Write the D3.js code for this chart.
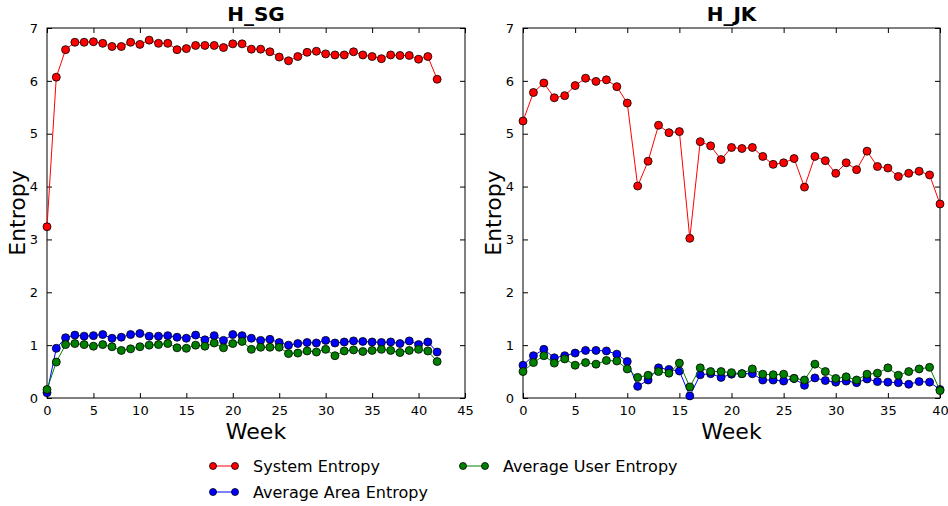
<!DOCTYPE html>
<html>
<head>
<meta charset="utf-8">
<script src="https://cdn.jsdelivr.net/npm/d3@7"></script>
<style>
  html, body { margin: 0; padding: 0; background: #fff; }
  svg { display: block; font-family: "DejaVu Sans", sans-serif; }
</style>
</head>
<body>
<svg id="chart" width="948" height="506"></svg>
<script>
// Weekly entropy for the H_SG dataset (weeks 0..42)
const sgSystem = [3.24, 6.07, 6.59, 6.73, 6.73, 6.74, 6.71, 6.65, 6.65, 6.73, 6.69, 6.77, 6.71, 6.71, 6.59, 6.61,
  6.67, 6.67, 6.67, 6.63, 6.70, 6.70, 6.60, 6.60, 6.55, 6.45, 6.38, 6.46, 6.54, 6.56, 6.51, 6.49, 6.49, 6.55,
  6.49, 6.46, 6.42, 6.49, 6.48, 6.48, 6.41, 6.46, 6.03];
const sgArea = [0.10, 0.94, 1.14, 1.19, 1.17, 1.18, 1.20, 1.13, 1.15, 1.20, 1.22, 1.17, 1.17, 1.18, 1.15, 1.13,
  1.19, 1.10, 1.18, 1.09, 1.20, 1.18, 1.13, 1.09, 1.11, 1.05, 1.00, 1.03, 1.05, 1.04, 1.09, 1.04, 1.06, 1.08,
  1.07, 1.06, 1.05, 1.06, 1.03, 1.08, 1.01, 1.06, 0.87];
const sgUser = [0.16, 0.68, 1.01, 1.03, 1.01, 0.98, 1.01, 0.97, 0.90, 0.93, 0.97, 1.00, 1.01, 1.03, 0.95, 0.94,
  1.00, 0.98, 1.04, 0.95, 1.03, 1.07, 0.92, 0.96, 0.96, 0.96, 0.84, 0.85, 0.89, 0.87, 0.92, 0.80, 0.89, 0.91,
  0.88, 0.90, 0.92, 0.90, 0.86, 0.90, 0.92, 0.89, 0.69];

// Weekly entropy for the H_JK dataset (weeks 0..40)
const jkSystem = [5.24, 5.78, 5.96, 5.68, 5.72, 5.91, 6.05, 5.99, 6.02, 5.89, 5.58, 4.01, 4.48, 5.16, 5.02, 5.04,
  3.02, 4.85, 4.77, 4.51, 4.74, 4.72, 4.74, 4.57, 4.42, 4.45, 4.53, 3.99, 4.57, 4.49, 4.25, 4.45, 4.32, 4.67,
  4.38, 4.35, 4.19, 4.25, 4.29, 4.22, 3.67];
const jkArea = [0.62, 0.80, 0.92, 0.76, 0.80, 0.85, 0.90, 0.90, 0.89, 0.83, 0.69, 0.22, 0.34, 0.57, 0.54, 0.51,
  0.04, 0.44, 0.46, 0.39, 0.45, 0.46, 0.46, 0.34, 0.34, 0.32, 0.37, 0.24, 0.38, 0.33, 0.30, 0.32, 0.29, 0.36,
  0.31, 0.30, 0.29, 0.26, 0.31, 0.30, 0.16];
const jkUser = [0.50, 0.67, 0.80, 0.66, 0.74, 0.62, 0.67, 0.64, 0.71, 0.70, 0.55, 0.39, 0.43, 0.50, 0.47, 0.66,
  0.21, 0.57, 0.50, 0.50, 0.48, 0.46, 0.55, 0.45, 0.44, 0.45, 0.37, 0.34, 0.64, 0.50, 0.37, 0.40, 0.34, 0.45,
  0.47, 0.57, 0.43, 0.50, 0.55, 0.58, 0.14];

const seriesNames = ["System Entropy", "Average Area Entropy", "Average User Entropy"];
const seriesColors = ["#ff0000", "#0000ff", "#008000"];
const yTicks = [0, 1, 2, 3, 4, 5, 6, 7];

const panels = [
  { title: "H_SG", data: [sgSystem, sgArea, sgUser], xMax: 45, xTicks: d3.range(0, 46, 5), left: 47, right: 465 },
  { title: "H_JK", data: [jkSystem, jkArea, jkUser], xMax: 40, xTicks: d3.range(0, 41, 5), left: 523, right: 940 }
];

const svg = d3.select("#chart");
const plotTop = 28, plotBottom = 398;
const y = d3.scaleLinear().domain([0, 7]).range([plotBottom, plotTop]);
const intFmt = d3.format("d");

panels.forEach(p => {
  const x = d3.scaleLinear().domain([0, p.xMax]).range([p.left, p.right]);
  const g = svg.append("g");

  // frame
  g.append("rect").attr("x", p.left).attr("y", plotTop)
    .attr("width", p.right - p.left).attr("height", plotBottom - plotTop)
    .attr("fill", "none").attr("stroke", "#000").attr("stroke-width", 1);

  // axes with inward ticks on all four sides
  const tickStyle = sel => {
    sel.select(".domain").remove();
    sel.selectAll("text").attr("font-size", 13).attr("fill", "#000").attr("font-family", "DejaVu Sans");
    sel.selectAll("line").attr("stroke", "#000");
  };
  g.append("g").attr("transform", `translate(0,${plotBottom})`)
    .call(d3.axisBottom(x).tickValues(p.xTicks).tickFormat(intFmt).tickSizeInner(-5).tickSizeOuter(0).tickPadding(8))
    .call(tickStyle);
  g.append("g").attr("transform", `translate(0,${plotTop})`)
    .call(d3.axisTop(x).tickValues(p.xTicks).tickSizeInner(-5).tickSizeOuter(0).tickFormat(""))
    .call(tickStyle);
  g.append("g").attr("transform", `translate(${p.left},0)`)
    .call(d3.axisLeft(y).tickValues(yTicks).tickFormat(intFmt).tickSizeInner(-5).tickSizeOuter(0).tickPadding(9))
    .call(tickStyle);
  g.append("g").attr("transform", `translate(${p.right},0)`)
    .call(d3.axisRight(y).tickValues(yTicks).tickSizeInner(-5).tickSizeOuter(0).tickFormat(""))
    .call(tickStyle);

  // series: lines then markers
  const line = d3.line().x((d, i) => x(i)).y(d => y(d));
  p.data.forEach((vals, k) => {
    g.append("path").datum(vals).attr("d", line)
      .attr("fill", "none").attr("stroke", seriesColors[k]).attr("stroke-width", 1);
    g.selectAll(null).data(vals).enter().append("circle")
      .attr("cx", (d, i) => x(i)).attr("cy", d => y(d)).attr("r", 4)
      .attr("fill", seriesColors[k]).attr("stroke", "#000").attr("stroke-width", 0.8);
  });

  const cx = (p.left + p.right) / 2;
  g.append("text").attr("x", cx).attr("y", 21).attr("text-anchor", "middle")
    .attr("font-size", 20).attr("font-weight", "bold").text(p.title);
  g.append("text").attr("x", cx).attr("y", 439).attr("text-anchor", "middle")
    .attr("font-size", 22).text("Week");
  g.append("text").attr("transform", `translate(${p.left - 22},${(plotTop + plotBottom) / 2}) rotate(-90)`)
    .attr("text-anchor", "middle").attr("font-size", 22).text("Entropy");
});

// legend, two columns
const legendItems = [
  { k: 0, x: 213, y: 466 },
  { k: 1, x: 213, y: 492 },
  { k: 2, x: 463, y: 466 }
];
const lg = svg.append("g");
legendItems.forEach(it => {
  lg.append("line").attr("x1", it.x).attr("x2", it.x + 22).attr("y1", it.y).attr("y2", it.y)
    .attr("stroke", seriesColors[it.k]).attr("stroke-width", 1);
  [it.x, it.x + 22].forEach(px => {
    lg.append("circle").attr("cx", px).attr("cy", it.y).attr("r", 3.5)
      .attr("fill", seriesColors[it.k]).attr("stroke", "#000").attr("stroke-width", 0.8);
  });
  lg.append("text").attr("x", it.x + 40).attr("y", it.y + 6).attr("font-size", 16)
    .text(seriesNames[it.k]);
});
</script>
</body>
</html>
